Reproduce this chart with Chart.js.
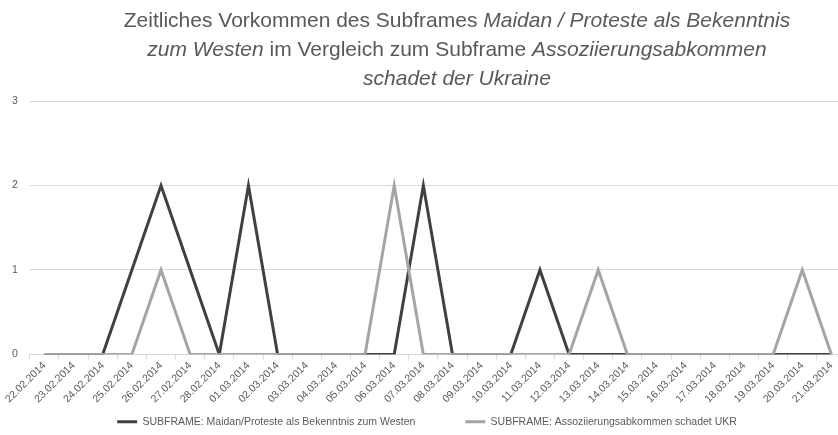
<!DOCTYPE html>
<html>
<head>
<meta charset="utf-8">
<script src="https://cdn.jsdelivr.net/npm/chart.js@4/dist/chart.umd.min.js"></script>
<style>
    html, body { margin: 0; padding: 0; background: #fff; overflow: hidden; }
    #wrap { position: relative; width: 838px; height: 435px; overflow: hidden; }
    #chartBox { position: absolute; left: 0; top: 0; width: 850px; height: 435px; }
    #title {
        position: absolute; left: 77px; width: 760px; top: 5px;
        text-align: center; font-family: "Liberation Sans", sans-serif;
        font-size: 21px; line-height: 29px; color: #595959;
    }
</style>
</head>
<body>
<div id="wrap">
    <div id="chartBox"><canvas id="verlauf"></canvas></div>
    <div id="title">Zeitliches Vorkommen des Subframes <i>Maidan / Proteste als Bekenntnis<br>zum Westen</i> im Vergleich zum Subframe <i>Assoziierungsabkommen<br>schadet der Ukraine</i></div>
</div>
<script>
const tage = ['22.02.2014', '23.02.2014', '24.02.2014', '25.02.2014', '26.02.2014', '27.02.2014', '28.02.2014',
    '01.03.2014', '02.03.2014', '03.03.2014', '04.03.2014', '05.03.2014', '06.03.2014', '07.03.2014',
    '08.03.2014', '09.03.2014', '10.03.2014', '11.03.2014', '12.03.2014', '13.03.2014', '14.03.2014',
    '15.03.2014', '16.03.2014', '17.03.2014', '18.03.2014', '19.03.2014', '20.03.2014', '21.03.2014'];

const maidanWesten = [0, 0, 0, 1, 2, 1, 0, 2, 0, 0, 0, 0, 0, 2, 0, 0, 0, 1, 0, 0, 0, 0, 0, 0, 0, 0, 0, 0];
const assoziierung = [0, 0, 0, 0, 1, 0, 0, 0, 0, 0, 0, 0, 2, 0, 0, 0, 0, 0, 0, 1, 0, 0, 0, 0, 0, 0, 1, 0];

const yTicks = [0, 1, 2, 3];

// legend keeps its wide item gap but sits closer to the axis labels
const legendVerschieben = {
    id: 'legendVerschieben',
    afterInit(chart) {
        const legend = chart.legend;
        const fit = legend.fit;
        legend.fit = function () {
            fit.call(this);
            this.height -= 45;
        };
        const draw = legend.draw;
        legend.draw = function (area) {
            const c = this.ctx;
            const top = this.top;
            this.top = top - 39;
            c.save();
            c.translate(4, 0);
            draw.call(this, area);
            c.restore();
            this.top = top;
        };
    }
};

const ctx = document.getElementById('verlauf').getContext('2d');

const verlaufChart = new Chart(ctx, {
    type: 'line',
    data: {
        labels: tage,
        datasets: [{
            label: 'SUBFRAME: Maidan/Proteste als Bekenntnis zum Westen',
            data: maidanWesten,
            borderColor: '#404040',
            backgroundColor: '#404040',
            borderWidth: 3,
            pointRadius: 0,
            tension: 0,
            order: 1
        }, {
            label: 'SUBFRAME: Assoziierungsabkommen schadet UKR',
            data: assoziierung,
            borderColor: '#a5a5a5',
            backgroundColor: '#a5a5a5',
            borderWidth: 3,
            pointRadius: 0,
            tension: 0,
            order: 0
        }]
    },
    plugins: [legendVerschieben],
    options: {
        responsive: true,
        maintainAspectRatio: false,
        animation: false,
        layout: {
            padding: { top: 101, left: 0, right: 4, bottom: 4 }
        },
        scales: {
            x: {
                offset: true,
                grid: {
                    offset: true,
                    drawOnChartArea: false,
                    drawTicks: true,
                    tickLength: 5,
                    color: '#d9d9d9'
                },
                border: { display: true, color: '#d9d9d9', width: 1 },
                ticks: {
                    minRotation: 45,
                    maxRotation: 45,
                    autoSkip: false,
                    padding: 0,
                    color: '#595959',
                    font: { family: 'Liberation Sans', size: 10.5 }
                }
            },
            y: {
                min: 0,
                max: 3,
                afterBuildTicks: function (axis) {
                    axis.ticks = yTicks.map(v => ({ value: v }));
                },
                grid: { color: '#d9d9d9', drawTicks: false },
                border: { display: false },
                ticks: {
                    padding: 12,
                    color: '#595959',
                    font: { family: 'Liberation Sans', size: 10.5 }
                }
            }
        },
        plugins: {
            legend: {
                display: true,
                position: 'bottom',
                labels: {
                    boxWidth: 20,
                    boxHeight: 3,
                    padding: 50,
                    color: '#595959',
                    font: { family: 'Liberation Sans', size: 10.5 },
                    generateLabels: function (chart) {
                        return Chart.defaults.plugins.legend.labels.generateLabels(chart)
                            .map(item => Object.assign(item, { lineWidth: 0 }));
                    },
                    sort: function (a, b) {
                        return a.datasetIndex - b.datasetIndex;
                    }
                }
            },
            tooltip: { enabled: false }
        }
    }
});
</script>
</body>
</html>
